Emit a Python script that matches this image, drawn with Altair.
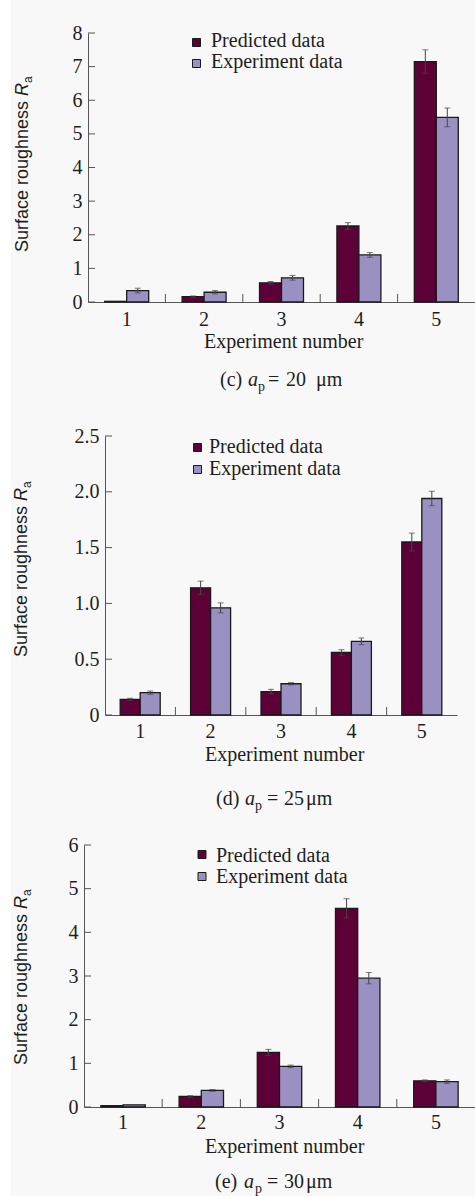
import altair as alt
import pandas as pd

W, H = 475, 1196
SERIF = "Liberation Serif"
SANS = "Liberation Sans"
TXT = "#1e1e1e"
AX = "#555555"

# ---------------- data ----------------
experiments = ["1", "2", "3", "4", "5"]
series = ["Predicted data", "Experiment data"]
series_colors = ["#5e0038", "#9a91c2"]
depths = ["20", "25", "30"]
panel_letters = ["(c)", "(d)", "(e)"]

# (c) a_p = 20 um
c_pred = [0.02, 0.16, 0.57, 2.26, 7.15]
c_pred_err = [0.00, 0.02, 0.04, 0.10, 0.35]
c_expt = [0.34, 0.29, 0.72, 1.40, 5.49]
c_expt_err = [0.07, 0.05, 0.07, 0.07, 0.28]
c_yticks = [0, 1, 2, 3, 4, 5, 6, 7, 8]

# (d) a_p = 25 um
d_pred = [0.14, 1.14, 0.21, 0.56, 1.55]
d_pred_err = [0.01, 0.06, 0.02, 0.025, 0.08]
d_expt = [0.20, 0.96, 0.28, 0.66, 1.94]
d_expt_err = [0.015, 0.045, 0.01, 0.03, 0.065]
d_yticks = [0, 0.5, 1.0, 1.5, 2.0, 2.5]

# (e) a_p = 30 um
e_pred = [0.03, 0.24, 1.25, 4.55, 0.60]
e_pred_err = [0.00, 0.02, 0.07, 0.22, 0.02]
e_expt = [0.05, 0.38, 0.93, 2.95, 0.58]
e_expt_err = [0.00, 0.02, 0.03, 0.13, 0.04]
e_yticks = [0, 1, 2, 3, 4, 5, 6]

x_title = "Experiment number"
y_title = ["Surface roughness ", "R", "a"]
cap_sym = ["a", "p", "=", "\u03bcm"]

# ---------------- layout (pixels) ----------------
G = [
    dict(x0=88, x1=475, y0=302, yt=33, lp=23, ytx=28, yts=252, xtx=204, xty=348,
         lgx=196.5, lgy=[42.5, 63.5], ltx=211, lty=[47, 68],
         cb=386, cx=[220, 248, 258, 268, 286, 316],
         lab="datum.value == 0 ? '0' : format(datum.value, 'd')"),
    dict(x0=105, x1=457, y0=715, yt=436, lp=22, ytx=27, yts=657, xtx=205, xty=761,
         lgx=197.5, lgy=[447.5, 469.5], ltx=209, lty=[453, 475],
         cb=805, cx=[216, 245, 255, 267, 284, 306],
         lab="datum.value == 0 ? '0' : format(datum.value, '.1f')"),
    dict(x0=84, x1=475, y0=1107, yt=845, lp=21, ytx=27, yts=1065, xtx=205, xty=1153,
         lgx=202, lgy=[854.5, 876.5], ltx=216, lty=[862, 883],
         cb=1188, cx=[215, 244, 255, 267, 284, 306],
         lab="datum.value == 0 ? '0' : format(datum.value, 'd')"),
]

color_enc = alt.Color("series:N", sort=series,
                      scale=alt.Scale(domain=series, range=series_colors), legend=None)


def text_layer(t, x, y, size=20, font=SERIF, italic=False, angle=0, align="left"):
    return alt.Chart(pd.DataFrame({"t": [t]})).mark_text(
        align=align, baseline="alphabetic", font=font, fontSize=size,
        fontStyle="italic" if italic else "normal", angle=angle, color=TXT
    ).encode(x=alt.value(x), y=alt.value(y), text="t:N")


def panel(pred, pred_err, expt, expt_err, yticks, g):
    rows = []
    for s, vals, errs in [(series[0], pred, pred_err), (series[1], expt, expt_err)]:
        for e, v, er in zip(experiments, vals, errs):
            rows.append({"exp": e, "series": s, "value": v, "err": er,
                         "lo": v - er, "hi": v + er})
    df = pd.DataFrame(rows)
    dfe = df[df["err"] > 0]

    xscale = alt.Scale(domain=experiments, range=[g["x0"], g["x1"]],
                       paddingInner=0, paddingOuter=0)
    xaxis = alt.Axis(orient="bottom", offset=g["y0"] - H, title=None, ticks=False,
                     tickSize=0, labelPadding=g["lp"], labelBaseline="alphabetic",
                     labelAngle=0, labelFont=SERIF,
                     labelFontSize=20, labelColor=TXT, domainColor=AX, domainWidth=1,
                     grid=False)
    yscale = alt.Scale(domain=[0, yticks[-1]], range=[g["y0"], g["yt"]], nice=False,
                       zero=True)
    yaxis = alt.Axis(orient="left", offset=-g["x0"], title=None, values=yticks,
                     ticks=False, tickSize=0, labelPadding=6, labelExpr=g["lab"],
                     labelFont=SERIF, labelFontSize=20, labelColor=TXT,
                     domainColor=AX, domainWidth=1, grid=False)

    def X(band=None):
        if band is None:
            return alt.X("exp:N", sort=experiments, scale=xscale, axis=xaxis)
        return alt.X("exp:N", sort=experiments, scale=xscale, axis=xaxis, bandPosition=band)

    def Y(f):
        return alt.Y(f"{f}:Q", scale=yscale, axis=yaxis)

    XO = alt.XOffset("series:N", sort=series,
                     scale=alt.Scale(domain=series, paddingOuter=0.76, paddingInner=0))

    bars = alt.Chart(df).mark_bar(stroke="#1a1a1a", strokeWidth=1.3).encode(
        x=X(), xOffset=XO, y=Y("value"), color=color_enc)
    rules = alt.Chart(dfe).mark_rule(color="#444444", strokeWidth=1).encode(
        x=X(), xOffset=XO, y=Y("lo"), y2="hi")
    cap_hi = alt.Chart(dfe).mark_tick(color="#444444", thickness=1, size=6,
                                      orient="horizontal").encode(
        x=X(), xOffset=XO, y=Y("hi"))
    cap_lo = alt.Chart(dfe).mark_tick(color="#444444", thickness=1, size=6,
                                      orient="horizontal").encode(
        x=X(), xOffset=XO, y=Y("lo"))
    yt = alt.Chart(pd.DataFrame({"value": yticks})).mark_rule(
        color=AX, strokeWidth=1).encode(
        y=Y("value"), x=alt.value(g["x0"]), x2=alt.value(g["x0"] + 7))
    seps = alt.Chart(pd.DataFrame({"exp": experiments[1:]})).mark_rule(
        color=AX, strokeWidth=1).encode(
        x=X(0), y=alt.value(g["y0"]), y2=alt.value(g["y0"] - 8))
    return alt.layer(bars, rules, cap_hi, cap_lo, yt, seps)


def decorations(i, g):
    layers = []
    # legend
    for k, s in enumerate(series):
        layers.append(
            alt.Chart(pd.DataFrame({"series": [s]})).mark_square(
                size=64, filled=True, stroke="#1a1a1a", strokeWidth=1, opacity=1
            ).encode(x=alt.value(g["lgx"]), y=alt.value(g["lgy"][k]), color=color_enc))
        layers.append(text_layer(s, g["ltx"], g["lty"][k]))
    # x title
    layers.append(text_layer(x_title, g["xtx"], g["xty"], size=20))
    # y title (rotated)
    layers.append(text_layer(y_title[0], g["ytx"], g["yts"], size=18, font=SANS, angle=270))
    layers.append(text_layer(y_title[1], g["ytx"], g["yts"] - 156, size=18, font=SANS,
                             italic=True, angle=270))
    layers.append(text_layer(y_title[2], g["ytx"] + 4, g["yts"] - 169, size=12, font=SANS,
                             angle=270))
    # caption
    cx = g["cx"]
    cb = g["cb"]
    layers.append(text_layer(panel_letters[i], cx[0], cb, size=20))
    layers.append(text_layer(cap_sym[0], cx[1], cb, size=20, italic=True))
    layers.append(text_layer(cap_sym[1], cx[2], cb + 5, size=14))
    layers.append(text_layer(cap_sym[2], cx[3], cb, size=20))
    layers.append(text_layer(depths[i], cx[4], cb, size=20))
    layers.append(text_layer(cap_sym[3], cx[5], cb, size=20))
    return layers


bg = alt.Chart(pd.DataFrame({"a": [0]})).mark_rect(color="#ffffff").encode(
    x=alt.value(0), x2=alt.value(11), y=alt.value(0), y2=alt.value(H))

pc = panel(c_pred, c_pred_err, c_expt, c_expt_err, c_yticks, G[0])
pdd = panel(d_pred, d_pred_err, d_expt, d_expt_err, d_yticks, G[1])
pe = panel(e_pred, e_pred_err, e_expt, e_expt_err, e_yticks, G[2])

deco = []
for i, g in enumerate(G):
    deco += decorations(i, g)

chart = alt.layer(bg, pc, pdd, pe, *deco).resolve_scale(
    x="independent", y="independent", xOffset="independent"
).resolve_axis(x="independent", y="independent").properties(
    width=W, height=H, padding=0, autosize=alt.AutoSizeParams(type="none"),
    background="#f8f8f8"
).configure_view(stroke=None)

chart.save("out.html", embed_options={"renderer": "svg", "actions": False})
